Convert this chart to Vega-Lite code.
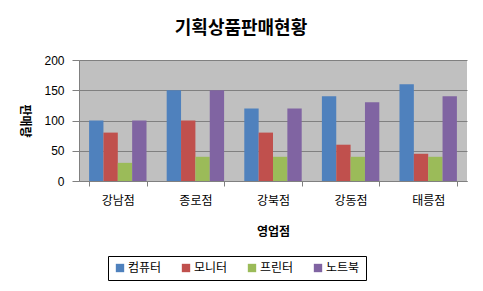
{
  "$schema": "https://vega.github.io/schema/vega-lite/v6.json",
  "autosize": "none",
  "width": 388,
  "height": 121,
  "padding": {"left": 79, "top": 60, "right": 16, "bottom": 110},
  "background": "white",
  "title": {"text": "기획상품판매현황", "font": "Noto Sans CJK KR", "fontSize": 18, "fontWeight": "bold", "color": "black", "dx": -32, "offset": 16},
  "data": {"values": [
    {"store": "강남점", "item": "컴퓨터", "v": 100},
    {"store": "강남점", "item": "모니터", "v": 80},
    {"store": "강남점", "item": "프린터", "v": 30},
    {"store": "강남점", "item": "노트북", "v": 100},
    {"store": "종로점", "item": "컴퓨터", "v": 150},
    {"store": "종로점", "item": "모니터", "v": 100},
    {"store": "종로점", "item": "프린터", "v": 40},
    {"store": "종로점", "item": "노트북", "v": 150},
    {"store": "강북점", "item": "컴퓨터", "v": 120},
    {"store": "강북점", "item": "모니터", "v": 80},
    {"store": "강북점", "item": "프린터", "v": 40},
    {"store": "강북점", "item": "노트북", "v": 120},
    {"store": "강동점", "item": "컴퓨터", "v": 140},
    {"store": "강동점", "item": "모니터", "v": 60},
    {"store": "강동점", "item": "프린터", "v": 40},
    {"store": "강동점", "item": "노트북", "v": 130},
    {"store": "태릉점", "item": "컴퓨터", "v": 160},
    {"store": "태릉점", "item": "모니터", "v": 45},
    {"store": "태릉점", "item": "프린터", "v": 40},
    {"store": "태릉점", "item": "노트북", "v": 140}
  ]},
  "mark": {"type": "bar"},
  "encoding": {
    "x": {"field": "store", "type": "nominal", "sort": ["강남점", "종로점", "강북점", "강동점", "태릉점"],
      "scale": {"paddingInner": 0.26, "paddingOuter": 0.13},
      "axis": {"title": "영업점", "labelAngle": 0, "labelFont": "Noto Sans CJK KR", "labelFontSize": 12, "labelColor": "black", "labelPadding": 9,
        "titleFont": "Noto Sans CJK KR", "titleFontSize": 12, "titleFontWeight": "bold", "titleColor": "black", "titlePadding": 20,
        "domainColor": "#808080", "tickColor": "#808080", "tickBand": "extent", "tickSize": 5}},
    "xOffset": {"field": "item", "type": "nominal", "sort": ["컴퓨터", "모니터", "프린터", "노트북"], "scale": {"paddingInner": 0, "paddingOuter": 0}},
    "y": {"field": "v", "type": "quantitative", "scale": {"domain": [0, 200]},
      "axis": {"title": "판매량", "titleAngle": 90, "titleFont": "Noto Sans CJK KR", "titleFontSize": 12, "titleFontWeight": "bold", "titleColor": "black", "titlePadding": 26,
        "values": [0, 50, 100, 150, 200], "labelFont": "Liberation Sans", "labelFontSize": 12, "labelColor": "black", "labelPadding": 8,
        "domainColor": "#808080", "tickColor": "#808080", "tickSize": 7, "grid": true, "gridColor": "#808080", "gridWidth": 1}},
    "color": {"field": "item", "type": "nominal", "sort": ["컴퓨터", "모니터", "프린터", "노트북"],
      "scale": {"domain": ["컴퓨터", "모니터", "프린터", "노트북"], "range": ["#4F81BD", "#C0504D", "#9BBB59", "#8064A2"]},
      "legend": {"title": null, "orient": "none", "legendX": 29, "legendY": 196, "direction": "horizontal", "symbolType": "square", "symbolSize": 70, "symbolStrokeWidth": 0,
        "labelFont": "Noto Sans CJK KR", "labelFontSize": 12, "labelColor": "black", "strokeColor": "black", "padding": 6, "columnPadding": 18, "labelOffset": 2}}
  },
  "config": {"view": {"fill": "#C0C0C0", "stroke": null}, "axis": {"gridOpacity": 1}}
}
